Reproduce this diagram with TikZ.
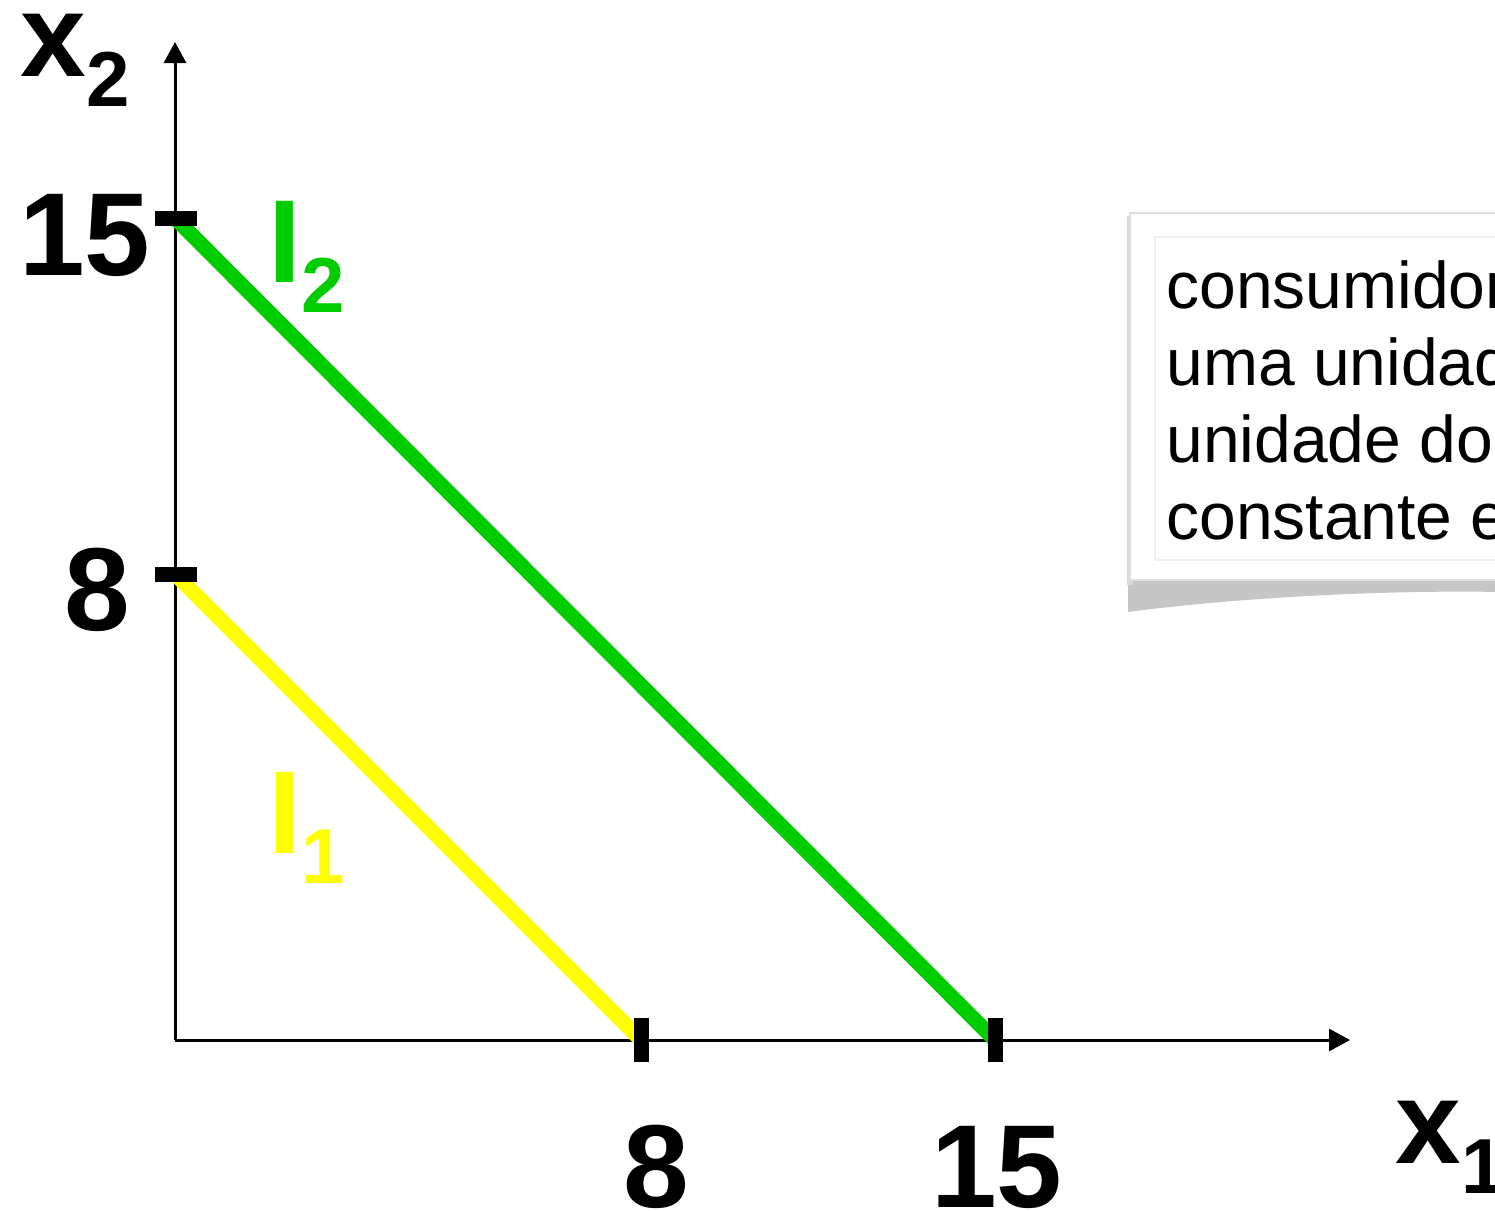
\documentclass[tikz,border=0pt]{standalone}
\usepackage{fontspec}
\setmainfont{Liberation Sans}
\usepackage{xcolor}
\usepackage{tikz}
\usetikzlibrary{positioning, arrows.meta}
\definecolor{indgreen}{RGB}{0,204,0}
\definecolor{indyellow}{RGB}{255,255,0}
\tikzset{
  axis/.style={-{Triangle[length=10.5pt, width=11pt]}, line width=1.5pt},
  indline/.style={line width=7.5pt},
  tickmark/.style={line width=7.5pt},
  biglabel/.style={font=\bfseries\fontsize{59}{60}\selectfont, inner sep=0pt, anchor=base},
  notebox/.style={fill=white, draw=gray!25, line width=0.6pt}
}
\newcommand{\subtxt}[1]{\raisebox{-15pt}{\fontsize{39}{40}\selectfont #1}}

\begin{document}
\begin{tikzpicture}[x=0.5pt, y=-0.5pt]
\useasboundingbox (0,0) rectangle (1495,1211);
\clip (0,0) rectangle (1495,1211);
% axes
\coordinate (O) at (175,1040);
\coordinate (ytop) at (175,42);
\coordinate (xend) at (1350,1040);
\draw[axis] (O) -- (ytop);
\draw[axis] (O) -- (xend);
% indifference lines
\coordinate (a15) at (175,218);
\coordinate (a8) at (175,574);
\coordinate (b8) at (641,1040);
\coordinate (b15) at (995,1040);
\draw[indline, indgreen] (a15) -- (b15);
\draw[indline, indyellow] (a8) -- (b8);
% ticks
\foreach \p in {a15,a8}
  \draw[tickmark] ([xshift=-10pt]\p) -- ([xshift=11pt]\p);
\foreach \p in {b8,b15}
  \draw[tickmark] ([yshift=-11pt]\p) -- ([yshift=11pt]\p);
% labels
\node[biglabel] (lab15y) at (85,275) {15};
\node[biglabel] (lab8y) at (97,630) {8};
\node[biglabel] (lab8x) at (656,1207) {8};
\node[biglabel] (lab15x) at (997,1207) {15};
\node[biglabel, anchor=base west] (labx2) at (20,76) {x\subtxt{2}};
\node[biglabel, anchor=base west] (labx1) at (1395,1163) {x\subtxt{1}};
\node[biglabel, anchor=base west, text=indgreen] (labI2) at (268,282) {I\subtxt{2}};
\node[biglabel, anchor=base west, text=indyellow] (labI1) at (268,853) {I\subtxt{1}};
% note box
\fill[gray!45] (1128,580) -- (1128,612) .. controls (1250,596) and (1400,590) .. (1500,592) -- (1500,580) -- cycle;
\fill[gray!30] (1127,216) rectangle (1133,585);
\draw[notebox] (1130,213) rectangle (1510,580);
\draw[gray!12, line width=0.6pt] (1155,237) rectangle (1510,560);
\node[anchor=base west, inner sep=0pt, align=left, font=\fontsize{33}{38.5}\selectfont] (note) at (1166,539)
  {consumidor\\uma unidade\\unidade do\\constante e};
\end{tikzpicture}
\end{document}
